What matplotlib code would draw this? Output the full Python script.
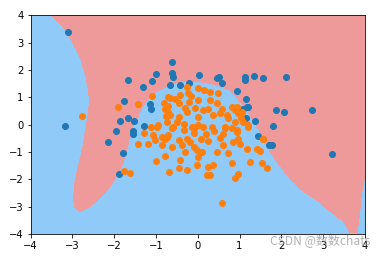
import numpy as np
import matplotlib
matplotlib.use("Agg")
import matplotlib.pyplot as plt
from matplotlib.path import Path
from matplotlib.colors import ListedColormap

# scatter points, class 0 (blue)
blue_x = [-3.10, -0.62, -0.62, -0.60, -0.99, -1.09, -1.66, -1.32, -0.66, -0.42, -0.22,
          -1.76, -1.15, -1.13, -1.87, -1.68, -1.52, -3.18, -1.28, 0.04, 0.52, 0.57, 0.47,
          1.14, 1.14, 1.35, 1.57, 2.12, 0.95, 1.16, 1.17, 1.09, 1.21, 1.86, 2.07, 2.74,
          1.38, 1.81, 1.16, 1.44, 1.71, 1.77, 3.22, -1.95, -1.55, -1.55, -2.14, -1.78, -1.88]
blue_y = [3.38, 2.28, 1.90, 1.73, 1.84, 1.58, 1.62, 1.36, 1.44, 1.44, 1.52,
          0.86, 0.75, 0.58, 0.13, 0.23, 0.13, -0.05, -0.05, 1.80, 1.73, 1.51, 1.69,
          1.73, 1.63, 1.77, 1.69, 1.73, 1.22, 0.92, 0.65, 0.59, 0.63, 0.52, 0.45, 0.52,
          0.13, -0.05, 0.26, -0.40, -0.76, -0.76, -1.08, -0.23, -0.23, -0.35, -0.62, -1.05, -1.79]

# scatter points, class 1 (orange)
orange_x = [-2.77, -1.90, -1.42, -1.09, -1.76, -1.61, -1.42, -1.28, -0.99, -0.78, -0.68,
            -0.46, -0.42, -0.25, -0.80, -0.78, -0.72, -0.77, -0.66, -0.74, -0.94, -1.12,
            -0.98, -0.26, -0.70, -0.42, -0.24, 0.00, 0.16, 0.29, 0.48, -0.46, -0.22, 0.01,
            0.29, -0.70, -0.30, -0.06, 0.13, 0.25, 0.57, 0.81, 0.89, -0.66, -0.46, -0.26,
            0.01, 0.37, 0.53, 0.73, 0.89, -0.58, -0.34, -0.14, 0.01, 0.33, 0.65, 0.93,
            1.05, 1.04, 1.09, 1.20, 0.97, -1.06, -1.02, -1.18, -0.86, -0.78, -0.86, -0.72,
            -0.62, -0.34, -0.26, -0.06, 0.13, 0.65, 0.81, 0.93, -0.74, -0.46, -0.62, -0.38,
            -0.18, -0.10, -0.02, 0.10, 0.01, -0.30, -0.02, 0.25, 0.37, 0.22, 0.30, 0.08,
            0.25, 0.53, 0.61, 0.45, 0.73, 0.81, 0.89, 0.97, 0.57, 0.85, 0.93, 1.20, 0.97,
            1.01, 1.17, 1.41, 1.49, 1.55, 1.25, 1.53, 1.65, -0.10, 0.40, 0.20, -0.50, 1.55,
            -0.55, 0.45, 0.70, -0.15, 0.60]
orange_y = [0.30, 0.63, 0.74, 1.03, -1.68, -1.78, -0.69, -0.29, -1.34, -1.16, -1.74,
            -1.57, -1.30, -1.67, 0.78, 0.59, 0.47, 0.32, 0.96, 0.10, -0.02, -0.08,
            -0.08, 1.36, 1.02, 1.08, 1.14, 1.33, 1.26, 1.20, 1.14, 0.78, 0.84, 0.90,
            0.90, 0.69, 0.62, 0.62, 0.53, 0.59, 0.59, 0.65, 0.53, 0.35, 0.29, 0.47,
            0.29, 0.35, 0.41, 0.23, 0.10, -0.08, 0.04, -0.08, -0.02, -0.08, -0.08, 0.65,
            0.47, 0.23, 0.10, -0.02, 0.41, -0.38, -0.57, -0.69, -0.45, -0.51, -0.75, -0.38,
            -0.14, -0.20, -0.51, -0.08, -0.08, -0.14, -0.14, -0.26, -0.45, -0.57, -0.81, -0.75,
            -0.63, -0.81, -0.93, -1.00, -1.18, -1.00, -1.48, -1.55, -1.48, -1.85, -1.83, -0.51,
            -0.60, -0.48, -0.75, -1.00, -1.05, -1.42, -1.95, -1.79, -2.87, -0.63, -0.20, -0.08, -0.51,
            -0.69, -0.90, -0.90, -0.97, -0.51, -1.36, -1.42, -1.60, -0.30, -0.25, -0.35, 0.10, -0.51,
            0.95, 0.80, 0.35, 1.05, -0.35]

# outline of the region predicted as class 0 (pink)
region_x = [-3.53, -3.22, -3.01, -2.82, -2.70, -2.64, -2.62, -2.64, -2.70, -2.78, -2.88,
            -2.96, -2.99, -2.96, -2.82, -2.58, -2.34, -2.14, -1.94, -1.78, -1.68, -1.60,
            -1.55, -1.42, -1.30, -1.14, -0.94, -0.72, -0.54, -0.30, 0.01, 0.25, 0.49, 0.73,
            0.89, 1.05, 1.21, 1.37, 1.61, 1.85, 2.17, 2.49, 2.85, 3.17, 3.45, 3.56, 3.60,
            3.84, 3.88, 3.92, 3.96, 4.00, 4.00]
region_y = [4.00, 3.52, 2.97, 2.36, 1.75, 1.26, 0.90, 0.40, -0.13, -0.86, -1.47,
            -2.08, -2.69, -3.06, -3.24, -3.06, -2.75, -2.42, -1.98, -1.47, -0.98, -0.49,
            -0.15, 0.23, 0.65, 0.96, 1.20, 1.36, 1.48, 1.55, 1.55, 1.48, 1.38, 1.23,
            1.00, 0.71, 0.35, -0.02, -0.75, -1.36, -1.97, -2.46, -2.81, -3.24, -3.55, -3.79, -4.00,
            -4.00, -3.42, -2.81, -2.33, -2.08, 4.00]

axis_range = [-4, 4, -4, 4]

fig = plt.figure(figsize=(379 / 72, 256 / 72), dpi=72)
ax = fig.add_axes([30.5 / 379, 22 / 256, 334.5 / 379, 218.7 / 256])

x0, x1 = np.meshgrid(np.linspace(axis_range[0], axis_range[1], 800),
                     np.linspace(axis_range[2], axis_range[3], 800))
pts = np.c_[x0.ravel(), x1.ravel()]
path = Path(np.c_[region_x, region_y])
zz = np.where(path.contains_points(pts), 0, 1).reshape(x0.shape)

custom_cmap = ListedColormap(['#EF9A9A', '#90CAF9'])
ax.contourf(x0, x1, zz, levels=[-0.5, 0.5, 1.5], cmap=custom_cmap)

ax.scatter(blue_x, blue_y, color='#1f77b4')
ax.scatter(orange_x, orange_y, color='#ff7f0e')

ax.set_xlim(axis_range[0], axis_range[1])
ax.set_ylim(axis_range[2], axis_range[3])
ax.set_xticks(range(-4, 5))
ax.set_yticks(range(-4, 5))

fig.text(0.976, 0.06, 'CSDN @数数chats', ha='right', va='center', fontsize=12,
         color='#999999', alpha=0.75, family=['Noto Sans CJK SC', 'DejaVu Sans'])

fig.savefig('out.png', dpi=72)
